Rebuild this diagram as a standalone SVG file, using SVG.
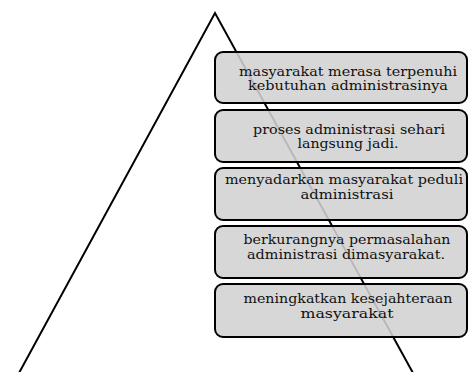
<svg xmlns="http://www.w3.org/2000/svg" width="469" height="372" viewBox="0 0 469 372">
  <style>
    .box { fill: #d2d2d2; fill-opacity: 0.88; stroke: #000; stroke-width: 2; }
    .lbl { font-family: "DejaVu Serif", "Liberation Serif", serif; font-size: 12.6px; fill: #111; text-anchor: middle; }
    .tri { fill: none; stroke: #000; stroke-width: 2; stroke-linejoin: miter; }
  </style>
  <rect width="469" height="372" fill="#fff"/>
  <g id="pyramid">
    <polyline class="tri" points="19,373 215,13 413,373"/>
  </g>
  <g id="connectors"></g>
  <g id="n1">
    <rect class="box" x="215" y="52" width="252" height="51" rx="8"/>
    <text class="lbl" x="348" y="75.5" textLength="218" lengthAdjust="spacingAndGlyphs">masyarakat merasa terpenuhi</text>
    <text class="lbl" x="348" y="90" textLength="200" lengthAdjust="spacingAndGlyphs">kebutuhan administrasinya</text>
  </g>
  <g id="n2">
    <rect class="box" x="215" y="110" width="252" height="52" rx="8"/>
    <text class="lbl" x="349" y="133.5" textLength="192" lengthAdjust="spacingAndGlyphs">proses administrasi sehari</text>
    <text class="lbl" x="348" y="148" textLength="101" lengthAdjust="spacingAndGlyphs">langsung jadi.</text>
  </g>
  <g id="n3">
    <rect class="box" x="215" y="168" width="252" height="52" rx="8"/>
    <text class="lbl" x="344" y="184" textLength="238" lengthAdjust="spacingAndGlyphs">menyadarkan masyarakat peduli</text>
    <text class="lbl" x="347" y="198.5" textLength="93" lengthAdjust="spacingAndGlyphs">administrasi</text>
  </g>
  <g id="n4">
    <rect class="box" x="215" y="226" width="252" height="52" rx="8"/>
    <text class="lbl" x="347" y="244" textLength="207" lengthAdjust="spacingAndGlyphs">berkurangnya permasalahan</text>
    <text class="lbl" x="346" y="258.5" textLength="198" lengthAdjust="spacingAndGlyphs">administrasi dimasyarakat.</text>
  </g>
  <g id="n5">
    <rect class="box" x="215" y="284" width="252" height="53" rx="8"/>
    <text class="lbl" x="348" y="303" textLength="209" lengthAdjust="spacingAndGlyphs">meningkatkan kesejahteraan</text>
    <text class="lbl" x="347" y="317.5" textLength="93" lengthAdjust="spacingAndGlyphs">masyarakat</text>
  </g>
</svg>
